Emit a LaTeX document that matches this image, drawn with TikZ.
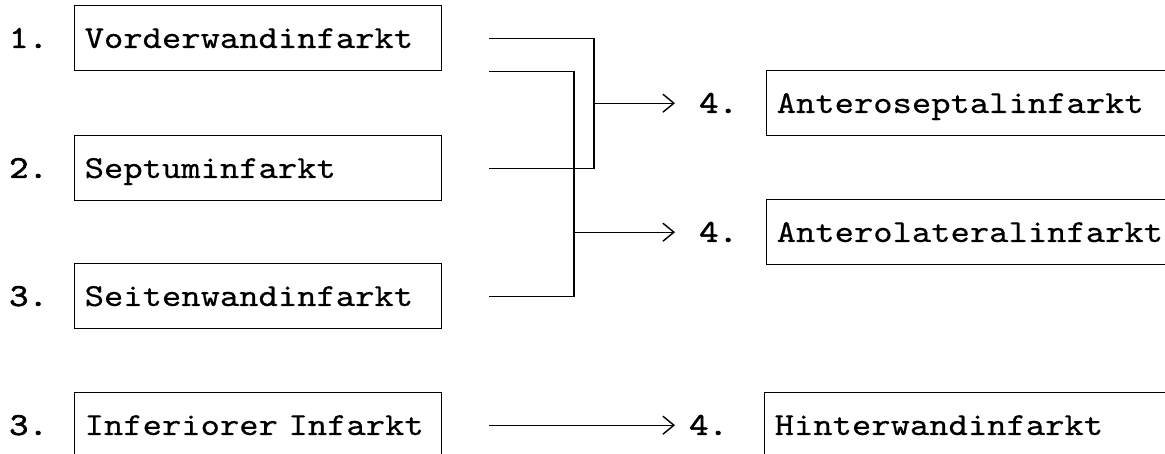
\documentclass[tikz,border=0pt]{standalone}
\usepackage{fontspec}
\setmonofont{lmmono10-regular}[Extension=.otf, FakeStretch=1.15, FakeBold=0.5]
\newfontfamily\numfont{lmmono10-regular}[Extension=.otf, FakeStretch=1.15, FakeBold=1.8]
\usetikzlibrary{arrows.meta}
\tikzset{
  txt/.style={font=\ttfamily\fontsize{32}{36}\selectfont, text height=19.5pt, text depth=0pt},
  box/.style={txt, draw, line width=1.4pt, minimum height=65pt, inner xsep=10pt, inner ysep=0pt, anchor=north west, align=left},
  leftbox/.style={box, text width=347pt},
  rightbox/.style={box, text width=420pt},
  num/.style={txt, font=\numfont\fontsize{32}{36}\selectfont, inner sep=0pt, anchor=west},
  conn/.style={line width=1.4pt},
  arr/.style={conn, -{Straight Barb[length=11pt,width=18pt,line width=1.4pt]}}
}
\begin{document}
\begin{tikzpicture}[x=1pt,y=-1pt]
\useasboundingbox (0,0) rectangle (1165,453);
\fill[white] (0,0) rectangle (1165,453);
\clip (0,0) rectangle (1165,453);
% left boxes
\node[leftbox] (v)   at (74,5)   {Vorderwandinfarkt};
\node[leftbox] (s)   at (74,135) {Septuminfarkt};
\node[leftbox] (sw)  at (74,263) {Seitenwandinfarkt};
\node[leftbox] (inf) at (74,392) {Inferiorer Infarkt};
% right boxes
\node[rightbox] (a) at (766,70)  {Anteroseptalinfarkt};
\node[rightbox] (b) at (766,199) {Anterolateralinfarkt};
\node[rightbox] (h) at (764,392) {Hinterwandinfarkt};
% numbers
\node[num] (n1) at ([xshift=-65pt]v.west)   {1.};
\node[num] (n2) at ([xshift=-65pt]s.west)   {2.};
\node[num] (n3) at ([xshift=-65pt]sw.west)  {3.};
\node[num] (n4) at ([xshift=-65pt]inf.west) {3.};
\node[num] (m1) at ([xshift=-67pt]a.west)   {4.};
\node[num] (m2) at ([xshift=-67pt]b.west)   {4.};
\node[num] (m3) at ([xshift=-75pt]h.west)   {4.};
% connectors
\coordinate (bus1) at (594,0);
\coordinate (bus2) at (574,0);
\draw[conn] ([xshift=47pt]v.east) -| (bus1 |- s.east) -- ([xshift=47pt]s.east);
\draw[arr] (bus1 |- a.west) -- ([xshift=-24pt]m1.west);
\draw[conn] ([xshift=47pt]v.south east) -| (bus2 |- sw.east) -- ([xshift=47pt]sw.east);
\draw[arr] (bus2 |- b.west) -- ([xshift=-24pt]m2.west);
\draw[arr] ([xshift=47pt]inf.east) -- ([xshift=-14pt]m3.west);
\end{tikzpicture}
\end{document}
